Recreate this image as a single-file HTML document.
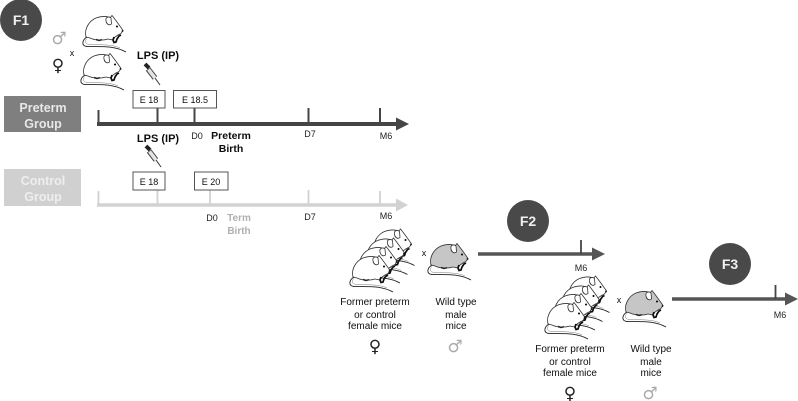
<!DOCTYPE html>
<html><head><meta charset="utf-8"><style>
html,body{margin:0;padding:0;background:#fff;width:798px;height:401px;overflow:hidden}
svg{display:block;font-family:"Liberation Sans",sans-serif}
</style></head><body>
<svg width="798" height="401" viewBox="0 0 798 401" xmlns="http://www.w3.org/2000/svg">
<defs>
<filter id="b" x="-5%" y="-5%" width="110%" height="110%"><feGaussianBlur stdDeviation="0.3"/></filter>
<g id="mbody">
  <path d="M4 22C2 14 7 6 14 3C20 1 25 1 28 3L30 .5L32 3C35 7 38 11 41 15.500L39 18.500L36 20L33 22L31 25L26 24C20 26 12 25 8 23Z" stroke="#333" stroke-width="0.8"/>
</g>
<g id="mrest" fill="none" stroke="#222">
  <path d="M24 6C23 2 27 1 29 3L29.500 9C27 11 24.500 9 24 6Z" fill="#fff" stroke="#333" stroke-width="0.8"/>
  <path d="M5 22C0 25 -1 31 5 31.500C17 32 31 30 44 37" stroke-width="0.9"/>
  <path d="M5 23.500C2 26 3 29 7 29.500C18 30 30 29 38 33" stroke-width="0.5" stroke="#777"/>
  <path d="M14 24.500l3 1 3-.8" stroke-width="1.500" stroke="#222"/>
  <path d="M32 22l-1 3 1 2.500 2-.5 1-3 2-3 2-1" stroke-width="1.700" stroke="#111"/>
  <circle cx="35" cy="11.500" r="1" fill="#000" stroke="none"/>
  <circle cx="40.500" cy="16" r="0.900" fill="#111" stroke="none"/>
</g>
<g id="mw"><use href="#mbody" fill="#fff"/><use href="#mrest"/></g>
<g id="mg"><use href="#mbody" fill="#c6c6c6"/><use href="#mrest"/></g>
<g id="syr">
  <path d="M1 0L5 4" stroke="#222" stroke-width="4"/>
  <path d="M4 5L11 14" stroke="#444" stroke-width="5.500" fill="none"/>
  <path d="M4.500 5.500L11 14" stroke="#e4e4e4" stroke-width="3.500" fill="none"/>
  <path d="M11 14L16 21" stroke="#333" stroke-width="1"/>
</g>
<g id="four">
  <use href="#mw" x="21.500" y="-26.500"/><use href="#mw" x="14.500" y="-17.500"/><use href="#mw" x="7" y="-9"/><use href="#mw" x="0" y="0"/>
</g>
<g id="labels" font-size="10" fill="#111" text-anchor="middle">
  <text x="375" y="305">Former preterm</text><text x="375" y="318">or control</text><text x="375" y="329">female mice</text>
  <text x="456" y="305">Wild type</text><text x="456" y="318">male</text><text x="456" y="329">mice</text>
  <text x="375" y="352" font-family="DejaVu Sans" font-size="17" fill="#222">♀</text>
  <text x="455" y="352" font-family="DejaVu Sans" font-size="17" fill="#aaa">♂</text>
  <text x="424" y="256" font-size="9">x</text>
</g>
</defs>
<g filter="url(#b)">
<circle cx="21" cy="20" r="21" fill="#4a4a4a"/>
<text x="21" y="25" text-anchor="middle" font-size="14" font-weight="bold" fill="#f0f0f0">F1</text>
<text x="59" y="44" text-anchor="middle" font-family="DejaVu Sans" font-size="17" fill="#aaa">♂</text>
<text x="58" y="71" text-anchor="middle" font-family="DejaVu Sans" font-size="17" fill="#222">♀</text>
<text x="72" y="56" text-anchor="middle" font-size="9" fill="#111">x</text>
<use href="#mw" x="82" y="15"/>
<use href="#mw" x="80" y="53"/>

<text x="158" y="59" text-anchor="middle" font-size="11" font-weight="bold" fill="#111">LPS (IP)</text>
<use href="#syr" x="144" y="64"/>

<rect x="4" y="96" width="77" height="36" fill="#7f7f7f"/>
<text x="43" y="112" text-anchor="middle" font-size="12.500" font-weight="bold" fill="#e8e8e8">Preterm</text>
<text x="43" y="128" text-anchor="middle" font-size="12.500" font-weight="bold" fill="#e8e8e8">Group</text>

<path d="M98.500 110V124M157.500 108V124M194.500 108V124M308.500 108V124M380 108V124" stroke="#444" stroke-width="2" fill="none"/>
<path d="M97 124H398" stroke="#444" stroke-width="4"/>
<path d="M396 117.500L409 124L396 130.500Z" fill="#444"/>

<rect x="133" y="90.500" width="32" height="17.500" fill="#fff" stroke="#555"/>
<rect x="173.500" y="90.500" width="43" height="17.500" fill="#fff" stroke="#555"/>
<text x="149" y="103" text-anchor="middle" font-size="9" fill="#111">E 18</text>
<text x="195" y="103" text-anchor="middle" font-size="9" fill="#111">E 18.5</text>

<text x="197" y="139" text-anchor="middle" font-size="9" fill="#222">D0</text>
<text x="231" y="139" text-anchor="middle" font-size="10.500" font-weight="bold" fill="#111">Preterm</text>
<text x="231" y="152" text-anchor="middle" font-size="10.500" font-weight="bold" fill="#111">Birth</text>
<text x="310" y="137" text-anchor="middle" font-size="9" fill="#222">D7</text>
<text x="386" y="139" text-anchor="middle" font-size="9" fill="#222">M6</text>

<text x="158" y="142" text-anchor="middle" font-size="11" font-weight="bold" fill="#111">LPS (IP)</text>
<use href="#syr" x="145" y="146"/>

<rect x="4" y="169" width="77" height="37" fill="#d0d0d0"/>
<text x="43" y="185" text-anchor="middle" font-size="12.500" font-weight="bold" fill="#eee">Control</text>
<text x="43" y="201" text-anchor="middle" font-size="12.500" font-weight="bold" fill="#eee">Group</text>

<path d="M98.500 191V205M157.500 190V205M210 190V205M308.500 190V205M380 191V205" stroke="#d2d2d2" stroke-width="1.800" fill="none"/>
<path d="M97 205H398" stroke="#d2d2d2" stroke-width="3.500"/>
<path d="M396 198.500L408 205L396 211.500Z" fill="#d2d2d2"/>

<rect x="133" y="172" width="32" height="18" fill="#fff" stroke="#555"/>
<rect x="194.500" y="172" width="33.500" height="18" fill="#fff" stroke="#555"/>
<text x="149" y="185" text-anchor="middle" font-size="9" fill="#111">E 18</text>
<text x="211" y="185" text-anchor="middle" font-size="9" fill="#111">E 20</text>

<text x="212" y="221" text-anchor="middle" font-size="9" fill="#222">D0</text>
<text x="239" y="221" text-anchor="middle" font-size="10" font-weight="bold" fill="#b0b0b0">Term</text>
<text x="239" y="234" text-anchor="middle" font-size="10" font-weight="bold" fill="#b0b0b0">Birth</text>
<text x="310" y="220" text-anchor="middle" font-size="9" fill="#222">D7</text>
<text x="386" y="219" text-anchor="middle" font-size="9" fill="#222">M6</text>

<use href="#four" x="349" y="255"/>
<use href="#mg" x="427" y="243"/>
<use href="#labels"/>
<circle cx="528" cy="221" r="21" fill="#4a4a4a"/>
<text x="528" y="226" text-anchor="middle" font-size="14" font-weight="bold" fill="#f0f0f0">F2</text>
<path d="M478 254H595" stroke="#555" stroke-width="3.500"/>
<path d="M592 247.500L605 254L592 260.500Z" fill="#555"/>
<path d="M581 240V254" stroke="#444" stroke-width="1.800"/>
<text x="581" y="271" text-anchor="middle" font-size="9" fill="#222">M6</text>

<use href="#four" x="544" y="302"/>
<use href="#mg" x="622" y="290"/>
<use href="#labels" x="195" y="47"/>
<circle cx="730" cy="264" r="21" fill="#4a4a4a"/>
<text x="730" y="269" text-anchor="middle" font-size="14" font-weight="bold" fill="#f0f0f0">F3</text>
<path d="M672 299H788" stroke="#555" stroke-width="3.500"/>
<path d="M785 292.500L798 299L785 305.500Z" fill="#555"/>
<path d="M775.500 285V299" stroke="#444" stroke-width="1.800"/>
<text x="780" y="318" text-anchor="middle" font-size="9" fill="#222">M6</text>
</g>
</svg>
</body></html>
